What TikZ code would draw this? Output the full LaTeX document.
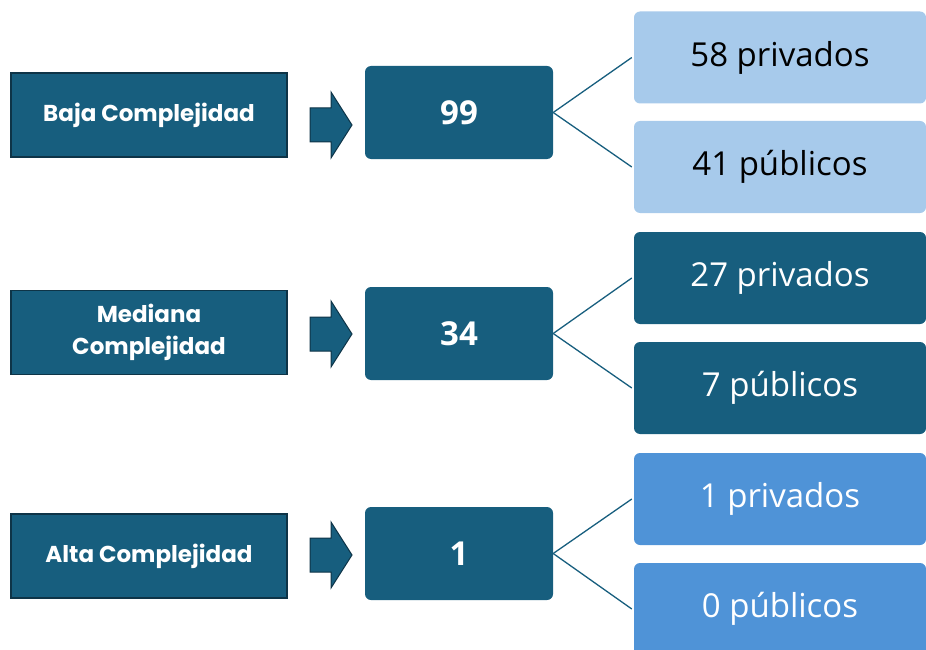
\documentclass[tikz,border=0pt]{standalone}
\usepackage{fontspec}
\setmainfont{Open Sans}
\newfontfamily\popb{Poppins}[UprightFont=* Bold]
\usetikzlibrary{positioning}
\definecolor{dteal}{HTML}{175E7E}
\definecolor{lblue}{HTML}{A7CAEB}
\definecolor{mblue}{HTML}{4F93D7}
\definecolor{bord}{HTML}{0E3447}
\tikzset{
  catbox/.style={draw=bord, line width=1.2pt, fill=dteal, text=white, font=\popb\fontsize{23}{32}\selectfont, align=center, minimum width=276pt, minimum height=84pt, inner sep=0pt},
  numbox/.style={fill=dteal, rounded corners=6pt, text=white, font=\bfseries\fontsize{33}{36}\selectfont, minimum width=188pt, minimum height=93pt, inner sep=0pt},
  subbox/.style={rounded corners=6pt, font=\fontsize{33}{36}\selectfont, minimum width=292pt, minimum height=92pt, inner sep=0pt},
  lightbox/.style={subbox, fill=lblue, text=black},
  darkbox/.style={subbox, fill=dteal, text=white},
  midbox/.style={subbox, fill=mblue, text=white},
  blockarrow/.style={draw=bord, line width=1pt, fill=dteal},
  link/.style={draw=dteal, line width=1.3pt}
}
\begin{document}
\begin{tikzpicture}[x=1pt,y=-1pt]
\useasboundingbox (0,0) rectangle (926,650);
% left category boxes
\node[catbox] (c1) at (149,115) {Baja Complejidad};
\node[catbox] (c2) at (149,332.5) {Mediana\\Complejidad};
\node[catbox] (c3) at (149,556) {Alta Complejidad};
% number boxes
\node[numbox] (n1) at (459,112.5) {99};
\node[numbox] (n2) at (459,333.5) {34};
\node[numbox] (n3) at (459,553.5) {1};
% block arrows
\foreach \y in {125,334,555}{
  \draw[blockarrow] (310,\y-17) -- (331,\y-17) -- (331,\y-33) -- (352,\y) -- (331,\y+33) -- (331,\y+17) -- (310,\y+17) -- cycle;
}
% sub boxes (extend past right edge)
\node[lightbox] (p1) at (780,57.5) {58 privados};
\node[lightbox] (q1) at (780,167) {41 públicos};
\node[darkbox] (p2) at (780,278) {27 privados};
\node[darkbox] (q2) at (780,388) {7 públicos};
\node[midbox] (p3) at (780,499) {1 privados};
\node[midbox] (q3) at (780,609) {0 públicos};
% connectors
\draw[link] (n1.east) -- ([xshift=-2pt]p1.west);
\draw[link] (n1.east) -- ([xshift=-2pt]q1.west);
\draw[link] (n2.east) -- ([xshift=-2pt]p2.west);
\draw[link] (n2.east) -- ([xshift=-2pt]q2.west);
\draw[link] (n3.east) -- ([xshift=-2pt]p3.west);
\draw[link] (n3.east) -- ([xshift=-2pt]q3.west);
\end{tikzpicture}
\end{document}
